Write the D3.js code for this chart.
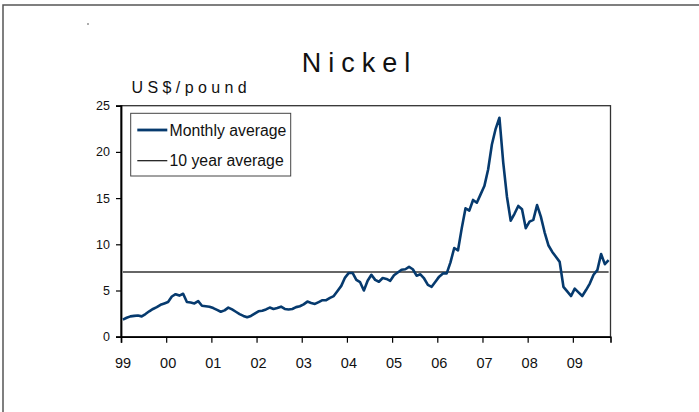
<!DOCTYPE html>
<html>
<head>
<meta charset="utf-8">
<script src="https://cdn.jsdelivr.net/npm/d3@7"></script>
<style>
  html, body { margin: 0; padding: 0; background: #fff; }
  svg text { font-family: Arial, "Liberation Sans", sans-serif; fill: #111; }
</style>
</head>
<body>
<div id="chart"></div>
<script>
// monthly average nickel price, US$/pound, Jan 1999 .. Oct 2009
var yearLabels = ['99', '00', '01', '02', '03', '04', '05', '06', '07', '08', '09'];
var monthly1999 = [1.85, 2.05, 2.2, 2.25, 2.3, 2.2, 2.45, 2.75, 3.0, 3.2, 3.45, 3.6];
var monthly2000 = [3.75, 4.35, 4.6, 4.45, 4.65, 3.75, 3.7, 3.6, 3.85, 3.35, 3.3, 3.25];
var monthly2001 = [3.1, 2.9, 2.7, 2.85, 3.15, 2.95, 2.7, 2.45, 2.25, 2.1, 2.25, 2.5];
var monthly2002 = [2.75, 2.8, 2.95, 3.15, 3.0, 3.1, 3.25, 3.0, 2.95, 3.0, 3.2, 3.3];
var monthly2003 = [3.5, 3.8, 3.65, 3.55, 3.75, 3.95, 3.95, 4.2, 4.4, 4.95, 5.5, 6.4];
var monthly2004 = [6.9, 6.9, 6.15, 5.9, 5.0, 6.05, 6.7, 6.15, 5.95, 6.35, 6.25, 6.05];
var monthly2005 = [6.65, 6.95, 7.25, 7.3, 7.55, 7.3, 6.6, 6.75, 6.3, 5.6, 5.4, 5.95];
var monthly2006 = [6.5, 6.85, 6.85, 8.05, 9.6, 9.35, 11.75, 13.9, 13.65, 14.8, 14.5, 15.4];
var monthly2007 = [16.3, 18.1, 20.8, 22.5, 23.7, 18.9, 15.15, 12.55, 13.3, 14.15, 13.8, 11.75];
var monthly2008 = [12.45, 12.65, 14.25, 13.0, 11.3, 9.9, 9.2, 8.65, 8.1, 5.4, 4.9, 4.4];
var monthly2009 = [5.2, 4.8, 4.4, 5.05, 5.75, 6.7, 7.2, 8.95, 7.85, 8.3];
var tenYearAverage = 7.0;
var yTicks = [0, 5, 10, 15, 20, 25];

var monthly = [].concat(monthly1999, monthly2000, monthly2001, monthly2002, monthly2003,
    monthly2004, monthly2005, monthly2006, monthly2007, monthly2008, monthly2009);

var width = 699, height = 412;
var plot = { left: 121, right: 610.5, top: 105.7, bottom: 336.7 };

var svg = d3.select('#chart').append('svg')
    .attr('width', width)
    .attr('height', height);

// outer frame
svg.append('rect')
    .attr('x', 3).attr('y', 5)
    .attr('width', 900).attr('height', 900)
    .attr('fill', 'none')
    .attr('stroke', '#555')
    .attr('stroke-width', 1.5);

svg.append('circle')
    .attr('cx', 88).attr('cy', 24).attr('r', 0.8)
    .attr('fill', '#444');

var x = d3.scaleLinear()
    .domain([0, 130])
    .range([plot.left, plot.right]);

var y = d3.scaleLinear()
    .domain([0, 25])
    .range([plot.bottom, plot.top]);

// plot frame (top / right)
svg.append('rect')
    .attr('x', plot.left).attr('y', plot.top)
    .attr('width', plot.right - plot.left)
    .attr('height', plot.bottom - plot.top)
    .attr('fill', 'none')
    .attr('stroke', '#333')
    .attr('stroke-width', 1.3);

// y axis
var yAxis = svg.append('g')
    .attr('transform', 'translate(' + plot.left + ',0)')
    .call(d3.axisLeft(y).tickValues(yTicks).tickSize(5).tickPadding(6).tickFormat(d3.format('d')));
yAxis.select('.domain').attr('stroke', '#000').attr('stroke-width', 1.8);
yAxis.selectAll('.tick line').attr('stroke', '#000').attr('stroke-width', 1.2);
yAxis.selectAll('.tick text')
    .style('font-size', '12.5px')
    .attr('fill', '#111');

// x axis
var xAxis = svg.append('g')
    .attr('transform', 'translate(0,' + plot.bottom + ')')
    .call(d3.axisBottom(x)
        .tickValues(d3.range(0, 121, 12))
        .tickSize(6)
        .tickPadding(15)
        .tickFormat(function(d) { return yearLabels[d / 12]; }));
xAxis.select('.domain').attr('stroke', '#000').attr('stroke-width', 1.6);
xAxis.selectAll('.tick line').attr('stroke', '#000').attr('stroke-width', 1.2);
xAxis.selectAll('.tick text')
    .style('font-size', '14.5px')
    .attr('dx', '1.5')
    .attr('fill', '#111');

// 10 year average
var avgLine = d3.line()
    .x(function(d, i) { return x(i + 0.5); })
    .y(function() { return y(tenYearAverage); });

svg.append('path')
    .datum(monthly)
    .attr('d', avgLine)
    .attr('fill', 'none')
    .attr('stroke', '#333')
    .attr('stroke-width', 1.6);

// monthly series
var priceLine = d3.line()
    .x(function(d, i) { return x(i + 0.5); })
    .y(function(d) { return y(d); });

svg.append('path')
    .datum(monthly)
    .attr('d', priceLine)
    .attr('fill', 'none')
    .attr('stroke', '#063a6e')
    .attr('stroke-width', 2.6)
    .attr('stroke-linejoin', 'round');

// legend
var legend = svg.append('g');
legend.append('rect')
    .attr('x', 130.7).attr('y', 113.3)
    .attr('width', 160).attr('height', 62.7)
    .attr('fill', '#fff')
    .attr('stroke', '#444')
    .attr('stroke-width', 1);

var legendItems = [
    { label: 'Monthly average', color: '#063a6e', w: 2.8 },
    { label: '10 year average', color: '#111', w: 1.2 }
];
legendItems.forEach(function(item, i) {
    var ly = 130 + i * 30.7;
    legend.append('line')
        .attr('x1', 137.3).attr('x2', 167.3)
        .attr('y1', ly).attr('y2', ly)
        .attr('stroke', item.color)
        .attr('stroke-width', item.w);
    legend.append('text')
        .attr('x', 169.5).attr('y', ly + 5.6)
        .style('font-size', '15.8px')
        .text(item.label);
});

// titles
svg.append('text')
    .attr('x', 301.7).attr('y', 72)
    .style('font-size', '27px')
    .style('letter-spacing', '7px')
    .text('Nickel');

svg.append('text')
    .attr('x', 131.5).attr('y', 92.7)
    .style('font-size', '16px')
    .style('letter-spacing', '4.4px')
    .text('US$/pound');
</script>
</body>
</html>
